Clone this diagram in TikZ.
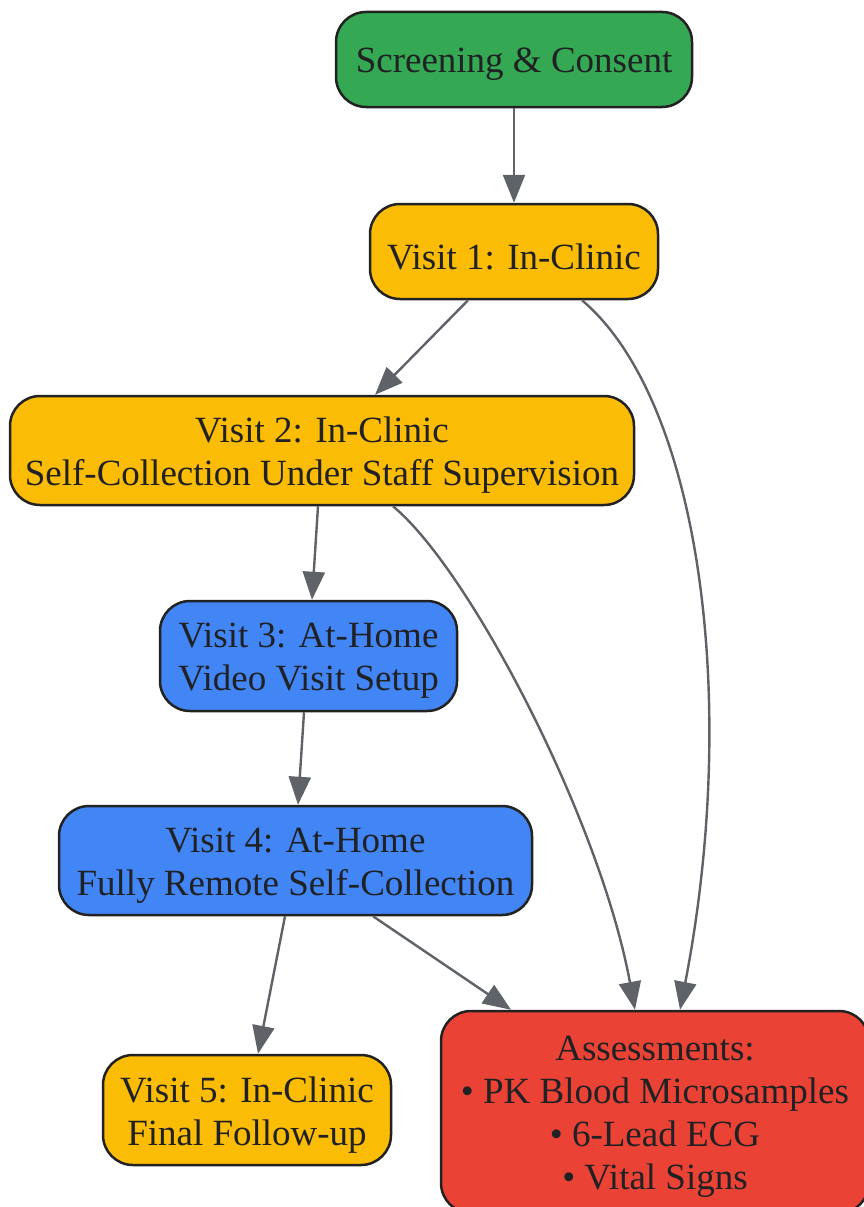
\documentclass[tikz,border=0pt]{standalone}
\usepackage{fontspec}
\setmainfont{Liberation Serif}
\usetikzlibrary{arrows.meta}
\definecolor{cgreen}{HTML}{34A853}
\definecolor{cyellow}{HTML}{FBBC05}
\definecolor{cblue}{HTML}{4285F4}
\definecolor{cred}{HTML}{EA4335}
\definecolor{ctext}{HTML}{202124}
\definecolor{cborder}{HTML}{222222}
\definecolor{cedge}{HTML}{5F6368}
\begin{document}
\begin{tikzpicture}[x=1pt,y=-1pt,
  box/.style={draw=cborder, line width=2.5pt, rounded corners=30pt, inner sep=0pt},
  lbl/.style={align=center, text=ctext, inner sep=0pt, font=\fontsize{37}{43}\selectfont},
  conn/.style={draw=cedge, line width=2.4pt,
    -{Triangle[length=28pt,width=22pt]}}]
\clip (0,0) rectangle (864,1207);
\fill[white] (0,0) rectangle (864,1207);
\node[box, fill=cgreen, minimum width=356pt, minimum height=95pt] (A) at (514,59.5) {};
\node[box, fill=cyellow, minimum width=288pt, minimum height=95pt] (B) at (514,251.5) {};
\node[box, fill=cyellow, minimum width=624pt, minimum height=109pt] (C) at (322,450.5) {};
\node[box, fill=cblue, minimum width=297pt, minimum height=110pt] (D) at (308.5,656) {};
\node[box, fill=cblue, minimum width=473pt, minimum height=109pt] (E) at (295.5,860.5) {};
\node[box, fill=cyellow, minimum width=288pt, minimum height=110pt] (F) at (247,1110) {};
\node[box, fill=cred, minimum width=428pt, minimum height=202pt] (G) at (655,1112) {};

\node[lbl] (At) at ([yshift=-5pt]A.center) {Screening \& Consent};
\node[lbl] (Bt) at ([yshift=-5pt]B.center) {Visit 1: In-Clinic};
\node[lbl] (Ct) at ([yshift=-5pt]C.center) {Visit 2: In-Clinic\\Self-Collection Under Staff Supervision};
\node[lbl] (Dt) at ([yshift=-5pt]D.center) {Visit 3: At-Home\\Video Visit Setup};
\node[lbl] (Et) at ([yshift=-5pt]E.center) {Visit 4: At-Home\\Fully Remote Self-Collection};
\node[lbl] (Ft) at ([yshift=-5pt]F.center) {Visit 5: In-Clinic\\Final Follow-up};
\node[lbl] (Gt) at ([yshift=-5pt]G.center) {Assessments:\\• PK Blood Microsamples\\• 6-Lead ECG\\• Vital Signs};

\draw[conn] (A.south) -- (B.north);
\draw[conn] ([xshift=-46pt]B.south) -- ([xshift=53pt]C.north);
\draw[conn] ([xshift=68pt]B.south) .. controls (700,400) and (740,700) .. ([xshift=25pt]G.north);
\draw[conn] ([xshift=-4pt]C.south) -- ([xshift=3.5pt]D.north);
\draw[conn] ([xshift=71pt]C.south) .. controls (470,570) and (600,820) .. ([xshift=-20pt]G.north);
\draw[conn] ([xshift=-4.5pt]D.south) -- ([xshift=2.5pt]E.north);
\draw[conn] ([xshift=-10.5pt]E.south) -- ([xshift=11pt]F.north);
\draw[conn] ([xshift=77.5pt]E.south) -- ([xshift=-144pt]G.north);
\end{tikzpicture}
\end{document}
